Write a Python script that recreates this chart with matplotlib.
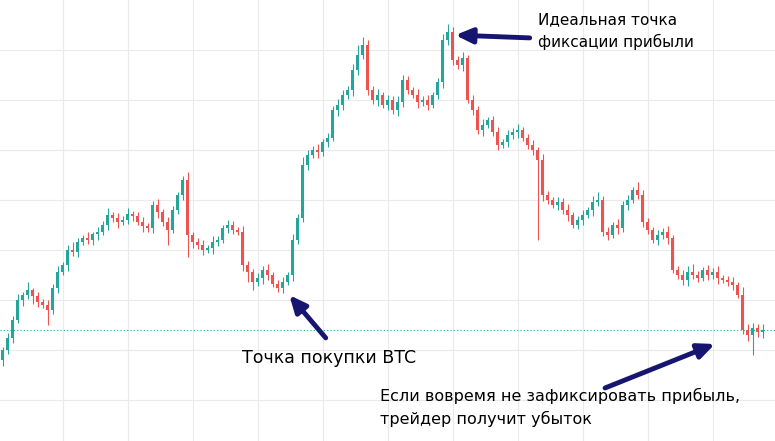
import matplotlib
matplotlib.use("Agg")
import matplotlib.pyplot as plt

closes = [50,62,80,100,105,110,104,98,95,90,
          112,128,135,150,148,158,162,160,166,168,
          175,185,182,178,180,186,184,178,174,172,
          195,188,178,170,190,205,220,165,158,155,
          150,152,158,160,172,175,170,168,135,128,
          118,122,130,125,116,112,118,125,160,182,
          235,245,250,248,258,262,290,295,305,310,
          330,345,355,310,300,305,295,300,290,298,
          320,310,305,298,300,295,305,318,360,368,
          340,335,342,300,290,270,275,280,268,255,
          258,265,268,270,262,255,250,240,205,200,
          195,198,190,185,175,180,185,190,198,200,
          168,165,175,172,195,200,210,205,178,170,
          160,165,168,162,130,125,120,128,125,122,
          130,125,128,122,120,118,115,105,70,65,
          72,68,70]
first_open = 40
upper_wick = [3,5,4,6,3,8,2,4,3,5, 4,6,3,5,8,4,3,6,2,5, 4,7,3,5,4,6,3,4,5,3,
              4,6,3,5,4,3,4,8,3,4, 5,3,6,4,3,5,4,3,6,4, 3,5,4,6,3,4,5,3,6,4,
              8,5,4,6,3,5,4,6,5,4, 6,10,8,5,4,6,3,5,4,6, 5,4,3,6,4,5,3,4,6,8,
              5,4,6,3,5,4,6,3,4,5, 3,5,4,6,3,4,5,3,6,4, 3,5,4,6,3,4,5,3,6,8,
              4,5,3,6,4,5,3,8,5,4, 3,5,4,6,3,4,5,6,8,4, 3,5,4,6,3,4,5,3,8,6, 5,4,6]
lower_wick = [6,4,5,3,6,4,8,5,3,15, 4,5,3,6,4,5,3,4,5,6, 3,5,4,6,3,4,5,3,6,4,
              5,6,4,15,3,4,5,22,6,4, 5,3,6,4,3,5,4,3,6,10, 8,4,6,5,3,4,5,3,6,4,
              4,5,3,6,4,5,3,6,5,4, 6,5,4,5,4,6,3,5,4,6, 5,4,3,6,4,5,3,4,6,5,
              5,4,6,3,5,4,6,3,4,5, 3,5,4,6,3,4,5,80,6,4, 3,5,4,6,3,4,5,3,6,4,
              4,5,3,6,4,5,3,4,5,4, 3,5,4,6,3,4,5,6,4,4, 3,5,4,6,3,4,5,3,4,6, 20,5,6]

fig = plt.figure(figsize=(7.75, 4.41), dpi=100)
ax = fig.add_axes([0, 0, 1, 1])
ax.set_xlim(-0.5, 154.5)
ax.set_ylim(-41, 400)
for v in range(12, 160, 13):
    ax.axvline(v, color="#e9e9ee", lw=0.8, zorder=0)
for h in range(-50, 400, 50):
    ax.axhline(h, color="#e9e9ee", lw=0.8, zorder=0)
ax.axhline(70, color="#26a69a", lw=0.8, ls=(0, (1, 2)), zorder=1)

prev = first_open
for i, c in enumerate(closes):
    o = prev
    col = "#26a69a" if c >= o else "#ef5350"
    hi = max(o, c) + upper_wick[i]
    lo = min(o, c) - lower_wick[i]
    ax.vlines(i, lo, hi, color=col, lw=0.8, zorder=2)
    ax.bar(i, max(abs(c - o), 0.8), bottom=min(o, c), width=0.7, color=col, zorder=3)
    prev = c
ax.axis("off")

navy = "#161670"
kw = dict(arrowstyle="-|>,head_width=0.45,head_length=1.0", color=navy, lw=3.5)
ax.annotate("", xy=(90, 365), xytext=(106, 362), arrowprops=kw)
ax.text(107, 388, "Идеальная точка\nфиксации прибыли", fontsize=11, va="top", ha="left", linespacing=1.5)
ax.annotate("", xy=(57, 107), xytext=(65, 60), arrowprops=kw)
ax.text(48, 42, "Точка покупки BTC", fontsize=12.5, va="center", ha="left")
ax.annotate("", xy=(143, 57), xytext=(120, 11), arrowprops=kw)
ax.text(75.5, 12, "Если вовремя не зафиксировать прибыль,\nтрейдер получит убыток", fontsize=11.5,
        va="top", ha="left", linespacing=1.5)
fig.savefig("out.png", dpi=100)
